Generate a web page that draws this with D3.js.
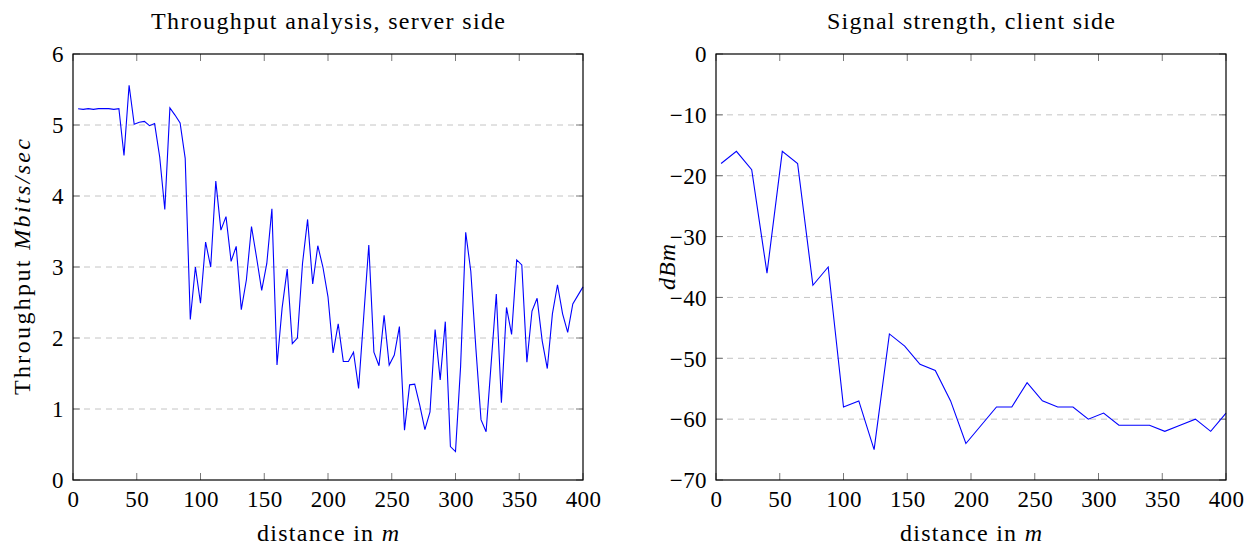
<!DOCTYPE html>
<html>
<head>
<meta charset="utf-8">
<script src="https://cdn.jsdelivr.net/npm/d3@7"></script>
<style>
	body { margin: 0; background: #fff; }
	svg text { font-family: "Liberation Serif", "DejaVu Serif", serif; fill: #000; }
</style>
</head>
<body>
<svg id="chart" width="1258" height="548"></svg>
<script>
// Throughput samples, server side (distance in m, Mbits/sec)
const throughputDistance = [
	4, 8, 12, 16, 20, 24, 28, 32, 36, 40, 44, 48, 52, 56, 60, 64, 68, 72, 76, 80,
	84, 88, 92, 96, 100, 104, 108, 112, 116, 120, 124, 128, 132, 136, 140, 144, 148, 152, 156, 160,
	164, 168, 172, 176, 180, 184, 188, 192, 196, 200, 204, 208, 212, 216, 220, 224, 228, 232, 236, 240,
	244, 248, 252, 256, 260, 264, 268, 272, 276, 280, 284, 288, 292, 296, 300, 304, 308, 312, 316, 320,
	324, 328, 332, 336, 340, 344, 348, 352, 356, 360, 364, 368, 372, 376, 380, 384, 388, 392, 396, 400
];
const throughputValues = [
	5.23, 5.22, 5.23, 5.22, 5.23, 5.23, 5.23, 5.22, 5.23, 4.57, 5.56, 5.01, 5.04, 5.05, 4.99, 5.02, 4.55, 3.81, 5.24, 5.14,
	5.03, 4.53, 2.26, 3.00, 2.49, 3.35, 3.00, 4.21, 3.52, 3.71, 3.08, 3.29, 2.40, 2.82, 3.57, 3.13, 2.67, 3.05, 3.82, 1.62,
	2.42, 2.97, 1.92, 2.00, 3.05, 3.67, 2.76, 3.30, 3.00, 2.58, 1.79, 2.20, 1.67, 1.67, 1.80, 1.29, 2.30, 3.31, 1.80, 1.61,
	2.32, 1.62, 1.76, 2.16, 0.70, 1.34, 1.35, 1.05, 0.71, 0.96, 2.12, 1.41, 2.23, 0.47, 0.40, 1.60, 3.49, 2.94, 1.85, 0.85,
	0.68, 1.65, 2.62, 1.09, 2.43, 2.05, 3.10, 3.03, 1.66, 2.38, 2.56, 1.96, 1.57, 2.34, 2.75, 2.34, 2.08, 2.48, 2.60, 2.72
];

// Signal strength samples, client side (distance in m, dBm)
const signalDistance = [
	4, 16, 28, 40, 52, 64, 76, 88, 100, 112, 124, 136, 148, 160, 172, 184, 196,
	208, 220, 232, 244, 256, 268, 280, 292, 304, 316, 328, 340, 352, 364, 376, 388, 400
];
const signalValues = [
	-18, -16, -19, -36, -16, -18, -38, -35, -58, -57, -65, -46, -48, -51, -52, -57, -64,
	-61, -58, -58, -54, -57, -58, -58, -60, -59, -61, -61, -61, -62, -61, -60, -62, -59
];

// Tick labels
const distanceTicks = [0, 50, 100, 150, 200, 250, 300, 350, 400];
const throughputTicks = [0, 1, 2, 3, 4, 5, 6];
const signalTicks = [0, -10, -20, -30, -40, -50, -60, -70];

const svg = d3.select('#chart');

const drawPanel = function(cfg) {
	const g = svg.append('g');
	const x = d3.scaleLinear().domain([0, 400]).range([cfg.left, cfg.left + 510]);
	const y = d3.scaleLinear().domain(cfg.yDomain).range([480, 54]);
	const tickLen = 7;
	const midX = (x(0) + x(400)) / 2;

	// Dashed horizontal grid
	g.selectAll('line.grid')
		.data(cfg.yTicks.filter(d => d !== cfg.yDomain[0] && d !== cfg.yDomain[1]))
	.join('line')
		.attr('class', 'grid')
		.attr('x1', x(0)).attr('x2', x(400))
		.attr('y1', d => y(d)).attr('y2', d => y(d))
		.style('stroke', '#c4c4c4')
		.style('stroke-width', 1)
		.style('stroke-dasharray', '6,5');

	// Axes: labels outside, ticks drawn inward on all four sides
	const fmt = d => d < 0 ? '\u2212' + Math.abs(d) : String(d);
	const bottom = g.append('g')
		.attr('transform', 'translate(0,480)')
		.call(d3.axisBottom(x).tickValues(distanceTicks).tickSize(0).tickPadding(11).tickFormat(fmt));
	const left = g.append('g')
		.attr('transform', 'translate(' + x(0) + ',0)')
		.call(d3.axisLeft(y).tickValues(cfg.yTicks).tickSize(0).tickPadding(9).tickFormat(fmt));
	[bottom, left].forEach(a => {
		a.select('.domain').remove();
		a.selectAll('text')
			.style('font-size', '23px')
			.style('letter-spacing', '0.4px')
			.style('font-family', '"Liberation Serif", serif');
	});
	left.selectAll('text').attr('dy', '0.34em');

	const ticks = g.append('g').style('stroke', '#555').style('stroke-width', 0.8);
	distanceTicks.forEach(d => {
		ticks.append('line').attr('x1', x(d)).attr('x2', x(d)).attr('y1', 480).attr('y2', 480 - tickLen);
		ticks.append('line').attr('x1', x(d)).attr('x2', x(d)).attr('y1', 54).attr('y2', 54 + tickLen);
	});
	cfg.yTicks.forEach(d => {
		ticks.append('line').attr('x1', x(0)).attr('x2', x(0) + tickLen).attr('y1', y(d)).attr('y2', y(d));
		ticks.append('line').attr('x1', x(400)).attr('x2', x(400) - tickLen).attr('y1', y(d)).attr('y2', y(d));
	});

	// Data line
	const line = d3.line().x(d => x(d[0])).y(d => y(d[1]));
	g.append('path')
		.datum(d3.zip(cfg.xs, cfg.ys))
		.attr('d', line)
		.style('fill', 'none')
		.style('stroke', '#0000ff')
		.style('stroke-width', 1.1)
		.style('stroke-linejoin', 'miter');

	// Frame
	g.append('rect')
		.attr('x', x(0)).attr('y', 54)
		.attr('width', x(400) - x(0)).attr('height', 426)
		.style('fill', 'none')
		.style('stroke', '#000')
		.style('stroke-width', 1.2);

	// Title (stretched to the width of the original lettering)
	g.append('text')
		.attr('x', midX).attr('y', 29)
		.attr('text-anchor', 'middle')
		.attr('textLength', cfg.titleWidth)
		.attr('lengthAdjust', 'spacing')
		.style('font-size', '24px')
		.text(cfg.title);

	// X label
	const xl = g.append('text')
		.attr('x', midX).attr('y', 541)
		.attr('text-anchor', 'middle')
		.attr('textLength', 142)
		.attr('lengthAdjust', 'spacing')
		.style('font-size', '24px');
	xl.append('tspan').text('distance in ');
	xl.append('tspan').style('font-style', 'italic').text('m');

	// Y label
	const yl = g.append('text')
		.attr('transform', 'translate(' + cfg.yLabelX + ',267) rotate(-90)')
		.attr('text-anchor', 'middle')
		.attr('textLength', cfg.yLabelWidth)
		.attr('lengthAdjust', 'spacing')
		.style('font-size', '24px');
	cfg.yLabel.forEach(p => yl.append('tspan').style('font-style', p.italic ? 'italic' : 'normal').text(p.text));
};

drawPanel({
	left: 73,
	yDomain: [0, 6],
	yTicks: throughputTicks,
	xs: throughputDistance,
	ys: throughputValues,
	title: 'Throughput analysis, server side',
	titleWidth: 354,
	yLabelX: 30,
	yLabelWidth: 256,
	yLabel: [{ text: 'Throughput ' }, { text: 'Mbits/sec', italic: true }]
});

drawPanel({
	left: 716,
	yDomain: [-70, 0],
	yTicks: signalTicks,
	xs: signalDistance,
	ys: signalValues,
	title: 'Signal strength, client side',
	titleWidth: 288,
	yLabelX: 675,
	yLabelWidth: 46,
	yLabel: [{ text: 'dBm', italic: true }]
});
</script>
</body>
</html>
